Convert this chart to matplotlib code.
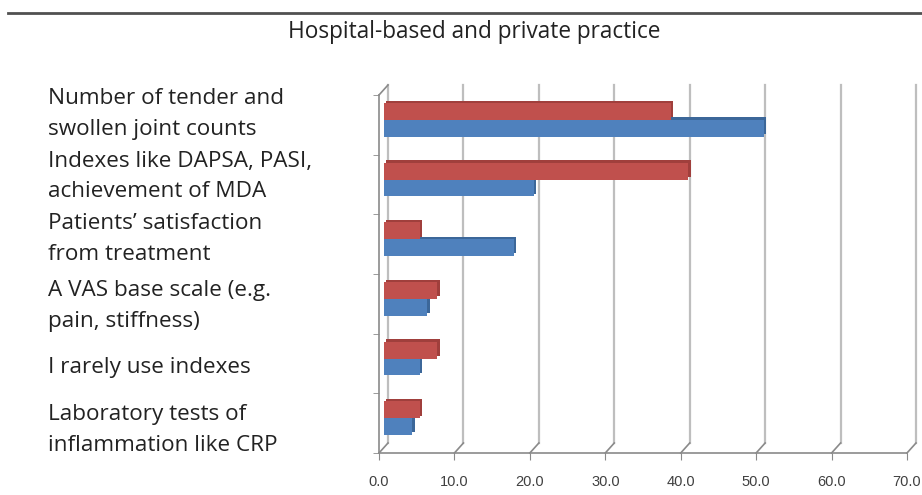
import matplotlib.pyplot as plt
import matplotlib.transforms as mtransforms
import numpy as np

categories = [
    "Number of tender and\nswollen joint counts",
    "Indexes like DAPSA, PASI,\nachievement of MDA",
    "Patients\u2019 satisfaction\nfrom treatment",
    "A VAS base scale (e.g.\npain, stiffness)",
    "I rarely use indexes",
    "Laboratory tests of\ninflammation like CRP",
]
red_vals = [38.1, 40.4, 4.8, 7.1, 7.1, 4.8]
blue_vals = [50.4, 19.9, 17.3, 5.8, 4.8, 3.8]
xticks = [0, 10, 20, 30, 40, 50, 60, 70]
title = "Hospital-based and private practice"

RED, RED_DARK = "#C0504D", "#A03F3C"
BLUE, BLUE_DARK = "#4F81BD", "#3C6799"
GRID = "#BEBEBE"
AXIS = "#8A8A8A"
TEXT_FONT = ["Open Sans", "DejaVu Sans"]

fig = plt.figure(figsize=(9.22, 4.95), dpi=100)
ax = fig.add_axes([379 / 922, 42 / 495, 528 / 922, 358 / 495])
ax.set_xlim(0, 70)
ax.set_ylim(len(categories) - 0.5, -0.5)

# depth of the 3d box, in pixels
depth_x, depth_y = 9, 10
px = fig.dpi_scale_trans
mid = ax.transData + mtransforms.ScaledTranslation(depth_x / 200, depth_y / 200, px)
side = mtransforms.ScaledTranslation(2.5 / 100, 2.5 / 100, px)

# back wall gridlines and floor diagonals
blend = mtransforms.blended_transform_factory(ax.transData, ax.transAxes)
dx = depth_x / (528 / 70)
dy = depth_y / 358
for x in xticks:
    ax.plot([x + dx, x + dx], [dy, 1 + dy], transform=blend, color=GRID, lw=1.6,
            clip_on=False, zorder=0)
    ax.plot([x, x + dx], [0, dy], transform=blend, color=AXIS, lw=1.2,
            clip_on=False, zorder=1)
ax.plot([0, dx], [1, 1 + dy], transform=blend, color=AXIS, lw=1.2, clip_on=False, zorder=1)

y = np.arange(len(categories))
h = 0.28
# side/top faces drawn slightly behind the front faces
ax.barh(y + h / 2, blue_vals, height=h, color=BLUE_DARK, transform=mid + side, zorder=2)
ax.barh(y + h / 2, blue_vals, height=h, color=BLUE, transform=mid, zorder=3)
ax.barh(y - h / 2, red_vals, height=h, color=RED_DARK, transform=mid + side, zorder=4)
ax.barh(y - h / 2, red_vals, height=h, color=RED, transform=mid, zorder=5)

for s in ["top", "right"]:
    ax.spines[s].set_visible(False)
for s in ["left", "bottom"]:
    ax.spines[s].set_color(AXIS)
    ax.spines[s].set_linewidth(1.2)

ax.set_xticks(xticks)
ax.set_xticklabels([f"{v:.1f}" for v in xticks], family=["Liberation Sans", "DejaVu Sans"],
                   fontsize=10.5, color="#404040")
ax.tick_params(axis="x", length=5, color=AXIS, pad=11)

ax.set_yticks(y)
ax.set_yticklabels([])
ax.tick_params(axis="y", length=0)
ax.set_yticks(np.arange(-0.5, len(categories)), minor=True)
ax.tick_params(axis="y", which="minor", length=4, color=AXIS)

# category labels, left aligned in the margin
label_tf = mtransforms.blended_transform_factory(fig.transFigure, ax.transData)
nudge = [11, 8, 5, -2, -4, -7]
for yi, text, n in zip(y, categories, nudge):
    ax.text(48 / 922, yi, text, transform=label_tf + mtransforms.ScaledTranslation(0, n / 100, px),
            ha="left", va="center", family=TEXT_FONT, fontsize=16.2, color="#222222",
            linespacing=1.62)

fig.text(474 / 922, 1 - 32 / 495, title, ha="center", va="center", family=TEXT_FONT,
         fontsize=16.3, color="#222222")
fig.add_artist(plt.Line2D([8 / 922, 1], [1 - 13 / 495, 1 - 13 / 495], color="#505050", lw=2))

fig.savefig("out.png", dpi=100)
